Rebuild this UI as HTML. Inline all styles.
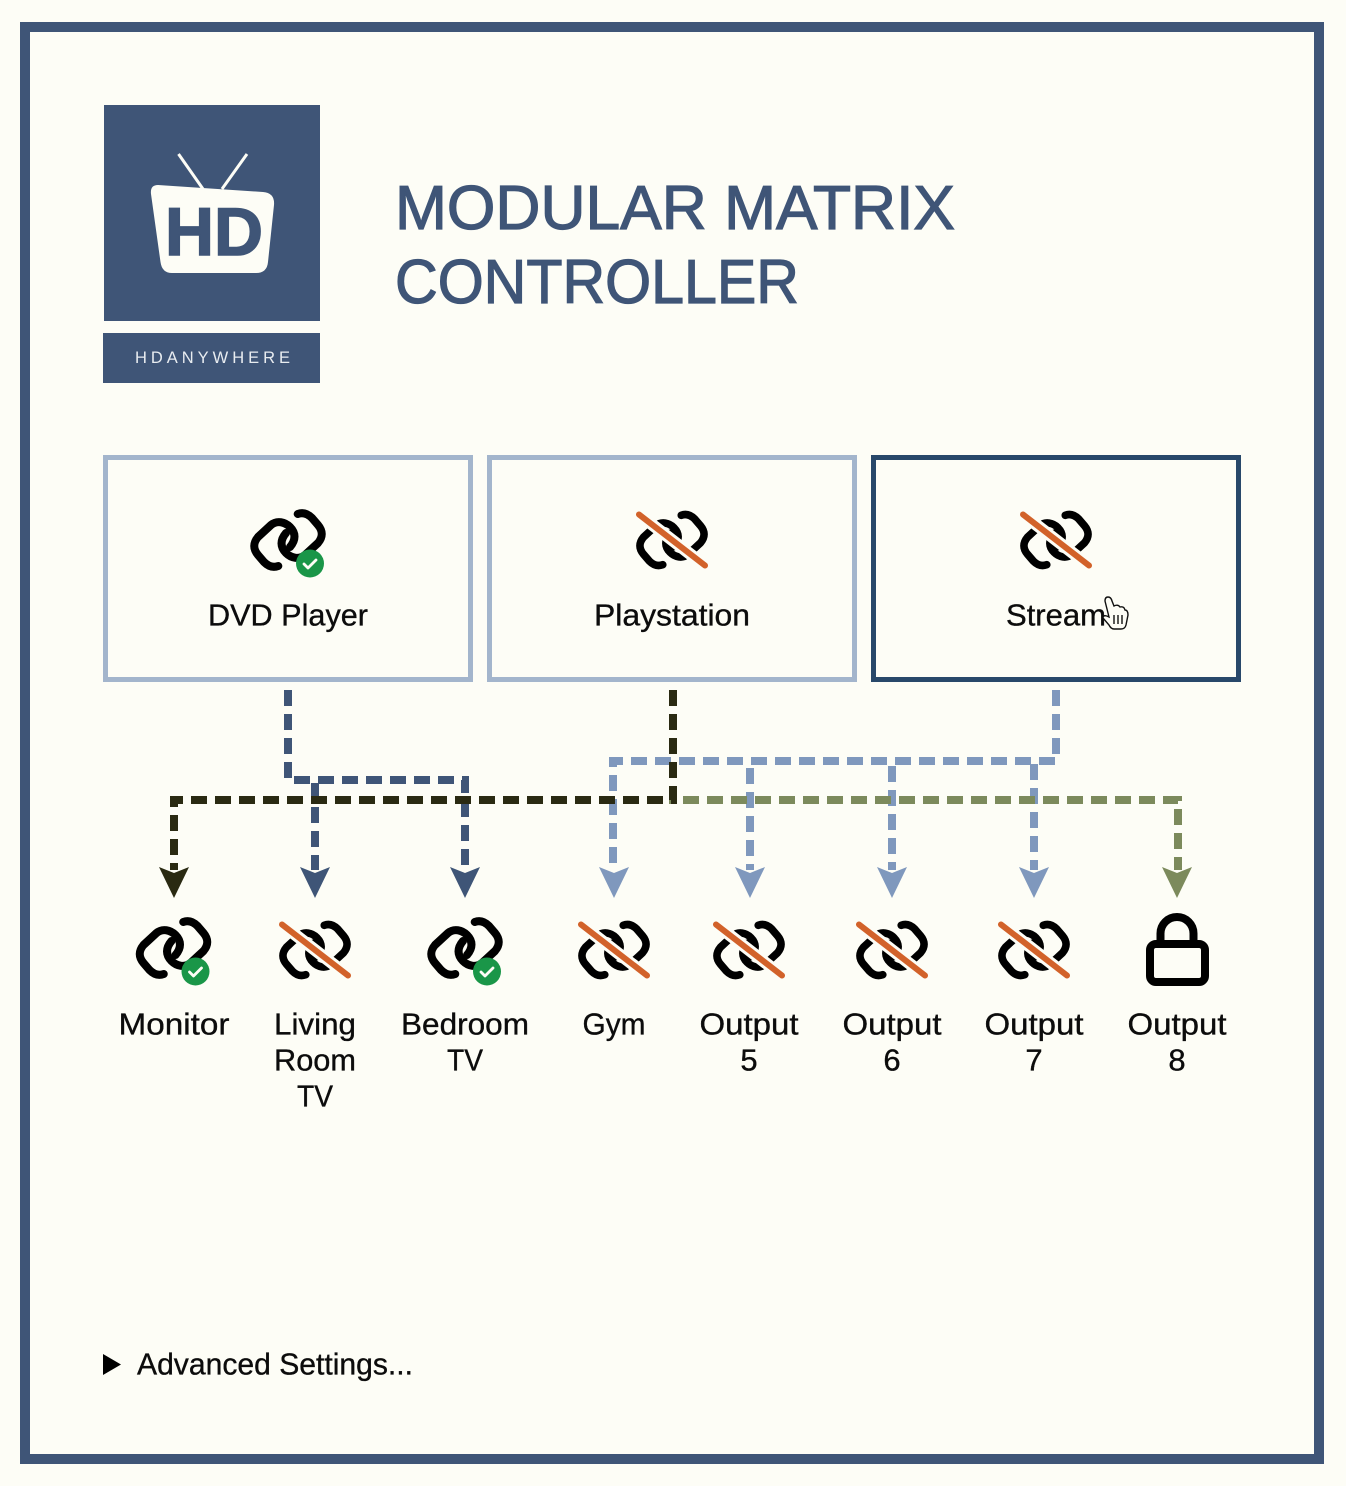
<!DOCTYPE html>
<html><head><meta charset="utf-8"><style>
html,body{margin:0;padding:0;background:#fdfdf6}
svg{display:block}
text{font-family:"Liberation Sans",sans-serif;fill:#0c0c0c}
.l,.t{font-size:31px;stroke:#0c0c0c;stroke-width:.35}
.l{text-anchor:middle}
</style></head><body>
<svg width="1346" height="1486" viewBox="0 0 1346 1486" xmlns="http://www.w3.org/2000/svg">
<defs>
<g id="chain" fill="none" stroke="#000" stroke-width="8" stroke-linecap="round" stroke-linejoin="round">
<path id="lk" d="M-9.700 26C-15 28-20 26-24 22L-30 15C-35 9-35 3-30-3L-17-15C-11-20-3-18 2-13C8-7 8 0 2 7"/>
<use href="#lk" transform="rotate(180)"/>
</g>
<g id="ok"><use href="#chain"/><circle cx="22" cy="23.500" r="14" fill="#1a9648"/><path d="M16 24l4 4 8-8" fill="none" stroke="#fdfdf6" stroke-width="2.800" stroke-linecap="round" stroke-linejoin="round"/></g>
<g id="no"><use href="#chain" transform="scale(.95)"/><path d="M-40-31L40 31" stroke="#fdfdf6" stroke-width="12"/><path d="M-33-25.500L33 25.500" stroke="#d2622a" stroke-width="6" stroke-linecap="round"/></g>
</defs>
<rect width="1346" height="1486" fill="#fdfdf6"/>
<rect x="25" y="27" width="1294" height="1432" fill="none" stroke="#3f5577" stroke-width="10"/>

<rect x="104" y="105" width="216" height="216" fill="#3f5577"/>
<rect x="103" y="333" width="217" height="50" fill="#3f5577"/>
<path d="M178.500 154L203 189M247 154L222 189" stroke="#fdfdf6" stroke-width="3" fill="none"/>
<path d="M158 185L263 192Q275 193 274 205L268 262Q267 273 256 273H172Q162 273 160.500 262L151 194Q150 185 158 185Z" fill="#fdfdf6"/>
<text x="165" y="255" font-size="68" font-weight="700" textLength="98" lengthAdjust="spacingAndGlyphs" style="fill:#3f5577;stroke:#3f5577;stroke-width:1.5">HD</text>
<text x="135" y="363" font-size="16.500" textLength="155" style="fill:#e8ecf0">HDANYWHERE</text>

<text x="395" y="229" font-size="62" textLength="560" lengthAdjust="spacingAndGlyphs" style="fill:#3f5577;stroke:#3f5577;stroke-width:1.2">MODULAR MATRIX</text>
<text x="395" y="303" font-size="62" textLength="404" lengthAdjust="spacingAndGlyphs" style="fill:#3f5577;stroke:#3f5577;stroke-width:1.2">CONTROLLER</text>

<g fill="none" stroke-width="8" stroke-dasharray="16 8">
<path d="M1056 666V761H613V870" stroke="#7f98bd"/>
<path d="M1056 666V761H1034V870" stroke="#7f98bd"/>
<path d="M1056 666V761H892V870" stroke="#7f98bd"/>
<path d="M1056 666V761H750V870" stroke="#7f98bd"/>
<path d="M673 666V800H1178V870" stroke="#7c8a5c"/>
<path d="M288 666V780H465V870" stroke="#3f5577"/>
<path d="M288 666V780H315V870" stroke="#3f5577"/>
<path d="M673 666V800H174V870" stroke="#2a2a12"/>
</g>
<g stroke="none">
<path d="M159 867L174 873L189 867L174 898Z" fill="#2a2a12"/>
<path d="M300 867L315 873L330 867L315 898Z" fill="#3f5577"/>
<path d="M450 867L465 873L480 867L465 898Z" fill="#3f5577"/>
<path d="M599 867L614 873L629 867L614 898Z" fill="#7f98bd"/>
<path d="M735 867L750 873L765 867L750 898Z" fill="#7f98bd"/>
<path d="M877 867L892 873L907 867L892 898Z" fill="#7f98bd"/>
<path d="M1019 867L1034 873L1049 867L1034 898Z" fill="#7f98bd"/>
<path d="M1162 867L1177 873L1192 867L1177 898Z" fill="#7c8a5c"/>
</g>

<rect x="105.500" y="457.500" width="365" height="222" fill="#fdfdf6" stroke="#a3b5cc" stroke-width="5"/>
<rect x="489.500" y="457.500" width="365" height="222" fill="#fdfdf6" stroke="#a3b5cc" stroke-width="5"/>
<rect x="873.500" y="457.500" width="365" height="222" fill="#fdfdf6" stroke="#28486a" stroke-width="5"/>

<use href="#ok" x="288" y="540"/>
<use href="#no" x="672" y="540"/>
<use href="#no" x="1056" y="540"/>
<text class="l" x="288" y="625.500" textLength="160" lengthAdjust="spacingAndGlyphs">DVD Player</text>
<text class="l" x="672" y="625.500" textLength="156" lengthAdjust="spacingAndGlyphs">Playstation</text>
<text class="t" x="1006" y="625.500" textLength="100" lengthAdjust="spacingAndGlyphs">Stream</text>
<path d="M1109 617L1105 601Q1105 597 1108 597Q1111 597 1112 601L1114 606Q1118 604 1120 607Q1124 606 1125 610Q1128 610 1128 615L1126 625Q1125 629 1121 629H1114Q1111 629 1109 625L1103 618Q1103 614 1109 617Z" fill="#fdfdf6" stroke="#111" stroke-width="1.400"/>
<path d="M1114 615V624M1118 615V624M1122 615V624" stroke="#111" stroke-width="1.400"/>

<use href="#ok" x="173.500" y="948"/>
<use href="#no" x="315" y="950"/>
<use href="#ok" x="465" y="948"/>
<use href="#no" x="614" y="950"/>
<use href="#no" x="749" y="950"/>
<use href="#no" x="892" y="950"/>
<use href="#no" x="1034" y="950"/>
<rect x="1150" y="944" width="55" height="38" rx="6" fill="none" stroke="#000" stroke-width="8"/>
<path d="M1160.500 944V933.500A16.500 16.500 0 0 1 1193.500 933.500V944" fill="none" stroke="#000" stroke-width="8"/>

<text class="l" x="174" y="1034.500" textLength="111" lengthAdjust="spacingAndGlyphs">Monitor</text>
<text class="l" x="315" y="1034.500" textLength="82" lengthAdjust="spacingAndGlyphs">Living</text>
<text class="l" x="315" y="1070.500" textLength="82" lengthAdjust="spacingAndGlyphs">Room</text>
<text class="l" x="315" y="1106.500" textLength="36" lengthAdjust="spacingAndGlyphs">TV</text>
<text class="l" x="465" y="1034.500" textLength="128" lengthAdjust="spacingAndGlyphs">Bedroom</text>
<text class="l" x="465" y="1070.500" textLength="36" lengthAdjust="spacingAndGlyphs">TV</text>
<text class="l" x="614" y="1034.500" textLength="63" lengthAdjust="spacingAndGlyphs">Gym</text>
<text class="l" x="749" y="1034.500" textLength="99" lengthAdjust="spacingAndGlyphs">Output</text>
<text class="l" x="749" y="1070.500">5</text>
<text class="l" x="892" y="1034.500" textLength="99" lengthAdjust="spacingAndGlyphs">Output</text>
<text class="l" x="892" y="1070.500">6</text>
<text class="l" x="1034" y="1034.500" textLength="99" lengthAdjust="spacingAndGlyphs">Output</text>
<text class="l" x="1034" y="1070.500">7</text>
<text class="l" x="1177" y="1034.500" textLength="99" lengthAdjust="spacingAndGlyphs">Output</text>
<text class="l" x="1177" y="1070.500">8</text>

<path d="M103 1354L121 1364.500L103 1375Z" fill="#000"/>
<text class="t" x="137" y="1374.500" textLength="276" lengthAdjust="spacingAndGlyphs">Advanced Settings...</text>
</svg>
</body></html>
